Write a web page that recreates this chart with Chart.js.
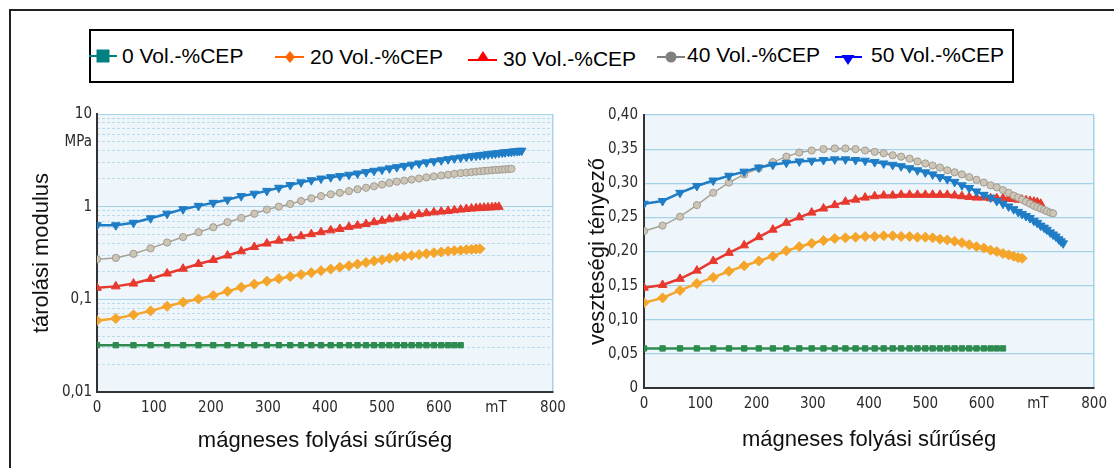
<!DOCTYPE html>
<html lang="hu">
<head>
<meta charset="utf-8">
<title>tárolási modulus / veszteségi tényező</title>
<script src="https://cdn.jsdelivr.net/npm/chart.js@4.4.1/dist/chart.umd.min.js"></script>
<style>
  html, body { margin: 0; padding: 0; background: #fff; }
  body { width: 1114px; height: 468px; position: relative; overflow: hidden; font-family: Arial, "Liberation Sans", sans-serif; }
  #frame { position: absolute; left: 9px; top: 9px; width: 1200px; height: 600px; border-left: 2px solid #222; border-top: 2px solid #222; }
  #legendBox { position: absolute; left: 89px; top: 29px; width: 925px; height: 54px; box-sizing: border-box; border: 2px solid #000; background: #fff; }
  .lg-mark { position: absolute; width: 30px; height: 20px; }
  .lg-text { position: absolute; font-size: 21px; line-height: 24px; color: #000; white-space: nowrap; }
  #leftWrap { position: absolute; left: 0; top: 100px; width: 575px; height: 360px; }
  #rightWrap { position: absolute; left: 556px; top: 100px; width: 558px; height: 360px; }
</style>
</head>
<body>
<div id="frame"></div>
<div id="legendBox"></div>

<!-- legend markers (Excel colours, not the scanned line colours) -->
<svg class="lg-mark" style="left:88px;top:46px" viewBox="0 0 30 20">
  <line x1="1" y1="10" x2="29" y2="10" stroke="#008080" stroke-width="2"/>
  <rect x="8.5" y="3.5" width="13" height="13" fill="#008080"/>
</svg>
<svg class="lg-mark" style="left:275px;top:47px" viewBox="0 0 30 20">
  <line x1="0" y1="10" x2="29" y2="10" stroke="#ff6600" stroke-width="2"/>
  <polygon points="15,4 20,10 15,16 10,10" fill="#ff6600"/>
</svg>
<svg class="lg-mark" style="left:468px;top:47px" viewBox="0 0 30 20">
  <line x1="0" y1="13" x2="29" y2="13" stroke="#ff0000" stroke-width="2"/>
  <polygon points="15,4 21.5,14 8.5,14" fill="#ff0000"/>
</svg>
<svg class="lg-mark" style="left:656px;top:47px" viewBox="0 0 30 20">
  <line x1="1" y1="10" x2="29" y2="10" stroke="#808080" stroke-width="2"/>
  <circle cx="15" cy="10" r="5.5" fill="#808080"/>
</svg>
<svg class="lg-mark" style="left:833px;top:47px" viewBox="0 0 30 20">
  <line x1="2" y1="10" x2="29" y2="10" stroke="#0000ff" stroke-width="2"/>
  <polygon points="8.5,8 21.5,8 15,18" fill="#0000ff"/>
</svg>

<div id="leftWrap"><canvas id="modulusChart"></canvas></div>
<div id="rightWrap"><canvas id="lossChart"></canvas></div>

<script>
// ================= DATA =================
const seriesNames = ["0 Vol.-%CEP", "20 Vol.-%CEP", "30 Vol.-%CEP", "40 Vol.-%CEP", "50 Vol.-%CEP"];

// magnetic flux density of the measuring points (mT); each series stops where its curve ends
const fieldMT = [0, 33, 64, 94, 123, 151, 178, 204, 229, 253, 276, 298, 319, 339, 358, 376, 393, 410, 426, 442,
  457, 472, 486, 500, 513, 526, 539, 552, 565, 578, 591, 604, 616, 627, 638, 648, 657, 665, 672, 679,
  686, 693, 699, 705, 711, 716, 722, 727, 732, 737, 741, 745];

// tárolási modulus (MPa)
const modulus0 = [0.032, 0.032, 0.032, 0.032, 0.032, 0.032, 0.032, 0.032, 0.032, 0.032, 0.032, 0.032, 0.032, 0.032, 0.032,
  0.032, 0.032, 0.032, 0.032, 0.032, 0.032, 0.032, 0.032, 0.032, 0.032, 0.032, 0.032, 0.032, 0.032, 0.032,
  0.032, 0.032, 0.032, 0.032, 0.032];
const modulus20 = [0.059, 0.062, 0.068, 0.075, 0.084, 0.093, 0.101, 0.110, 0.122, 0.135,
  0.146, 0.157, 0.167, 0.176, 0.185, 0.194, 0.204, 0.212, 0.222, 0.231,
  0.240, 0.250, 0.259, 0.268, 0.277, 0.285, 0.292, 0.298, 0.304, 0.311,
  0.318, 0.324, 0.330, 0.335, 0.339, 0.343, 0.346, 0.349, 0.351];
const modulus30 = [0.133, 0.138, 0.148, 0.166, 0.19, 0.214, 0.241, 0.266, 0.297, 0.33,
  0.367, 0.40, 0.43, 0.455, 0.48, 0.505, 0.53, 0.555, 0.575, 0.605,
  0.625, 0.65, 0.68, 0.705, 0.73, 0.75, 0.77, 0.80, 0.83, 0.85,
  0.87, 0.885, 0.90, 0.915, 0.93, 0.945, 0.955, 0.962, 0.97, 0.975,
  0.98, 0.985, 0.99, 0.995];
const modulus40 = [0.27, 0.28, 0.31, 0.355, 0.41, 0.47, 0.53, 0.60, 0.68, 0.755,
  0.84, 0.93, 1.00, 1.07, 1.15, 1.23, 1.30, 1.36, 1.41, 1.47,
  1.54, 1.60, 1.66, 1.73, 1.80, 1.86, 1.91, 1.96, 2.01, 2.07,
  2.12, 2.17, 2.21, 2.26, 2.30, 2.33, 2.36, 2.39, 2.41, 2.43,
  2.45, 2.47, 2.49, 2.50, 2.52, 2.53, 2.55, 2.56];
const modulus50 = [0.63, 0.63, 0.67, 0.75, 0.84, 0.94, 1.02, 1.10, 1.19, 1.30,
  1.38, 1.48, 1.60, 1.71, 1.83, 1.93, 2.01, 2.08, 2.14, 2.21,
  2.28, 2.36, 2.44, 2.51, 2.59, 2.67, 2.75, 2.84, 2.93, 3.01,
  3.09, 3.17, 3.25, 3.32, 3.39, 3.45, 3.50, 3.55, 3.59, 3.63,
  3.68, 3.72, 3.75, 3.79, 3.83, 3.86, 3.89, 3.92, 3.95, 3.98,
  4.00, 4.02];

// veszteségi tényező
const loss0 = [0.058, 0.058, 0.058, 0.058, 0.058, 0.058, 0.058, 0.058, 0.058, 0.058, 0.058, 0.058, 0.058, 0.058, 0.058,
  0.058, 0.058, 0.058, 0.058, 0.058, 0.058, 0.058, 0.058, 0.058, 0.058, 0.058, 0.058, 0.058, 0.058, 0.058,
  0.058, 0.058, 0.058, 0.058, 0.058];
const loss20 = [0.125, 0.132, 0.143, 0.153, 0.162, 0.171, 0.179, 0.186, 0.193, 0.201,
  0.207, 0.212, 0.216, 0.219, 0.220, 0.221, 0.222, 0.222, 0.223, 0.223,
  0.222, 0.222, 0.221, 0.221, 0.220, 0.218, 0.217, 0.215, 0.213, 0.210,
  0.207, 0.205, 0.202, 0.200, 0.197, 0.195, 0.193, 0.191, 0.190];
const loss30 = [0.147, 0.151, 0.160, 0.172, 0.186, 0.198, 0.209, 0.221, 0.232, 0.242,
  0.250, 0.257, 0.263, 0.268, 0.273, 0.276, 0.279, 0.281, 0.282, 0.282,
  0.283, 0.283, 0.283, 0.283, 0.283, 0.283, 0.283, 0.282, 0.281, 0.280,
  0.279, 0.279, 0.278, 0.278, 0.278, 0.277, 0.277, 0.276, 0.276, 0.275,
  0.274, 0.273, 0.272, 0.270];
const loss40 = [0.230, 0.238, 0.251, 0.268, 0.286, 0.301, 0.313, 0.322, 0.331, 0.339,
  0.345, 0.348, 0.350, 0.351, 0.351, 0.350, 0.348, 0.346, 0.344, 0.341,
  0.339, 0.336, 0.332, 0.329, 0.326, 0.323, 0.319, 0.316, 0.313, 0.309,
  0.305, 0.301, 0.297, 0.294, 0.290, 0.286, 0.282, 0.279, 0.276, 0.273,
  0.270, 0.267, 0.265, 0.263, 0.261, 0.259, 0.257, 0.256];
const loss50 = [0.270, 0.274, 0.286, 0.296, 0.304, 0.311, 0.317, 0.323, 0.327, 0.330,
  0.332, 0.333, 0.334, 0.335, 0.335, 0.334, 0.333, 0.331, 0.329, 0.327,
  0.325, 0.322, 0.319, 0.316, 0.313, 0.309, 0.306, 0.302, 0.297, 0.293,
  0.288, 0.283, 0.279, 0.274, 0.270, 0.266, 0.262, 0.258, 0.255, 0.252,
  0.249, 0.245, 0.242, 0.238, 0.235, 0.232, 0.228, 0.225, 0.222, 0.218,
  0.215, 0.212];

// tick labels
const fieldTicks = [0, 100, 200, 300, 400, 500, 600, 700, 800];
const fieldTickLabels = ["0", "100", "200", "300", "400", "500", "600", "mT", "800"];
const modulusTicks = [0.01, 0.1, 1, 5, 10];
const modulusTickLabels = ["0,01", "0,1", "1", "MPa", "10"];
const lossTicks = [0, 0.05, 0.10, 0.15, 0.20, 0.25, 0.30, 0.35, 0.40];
const lossTickLabels = ["0", "0,05", "0,10", "0,15", "0,20", "0,25", "0,30", "0,35", "0,40"];

// ================= LEGEND TEXT =================
const legendSpots = [[122, 43.5], [310, 44.5], [503, 46.5], [687, 42.5], [871, 43]];
seriesNames.forEach((name, i) => {
  const span = document.createElement("span");
  span.className = "lg-text";
  span.style.left = legendSpots[i][0] + "px";
  span.style.top = legendSpots[i][1] + "px";
  span.textContent = name;
  document.body.appendChild(span);
});

// ================= STYLES =================
const tickFont = { family: "'DejaVu Sans Condensed', 'Liberation Sans Narrow', sans-serif", size: 15 };
const titleFont = { family: "Arial, 'Liberation Sans', sans-serif", size: 22 };
const tickColor = "#2a2a2a";
const gridBlue = "#a6d2e8";
const gridDash = "#b8dcec";

const seriesStyle = [
  { color: "#2e8b50", point: "#2e8b50", edge: "#2e8b50", style: "rect", radius: 3.8, width: 2.5 },
  { color: "#f5a52a", point: "#f5a52a", edge: "#f5a52a", style: "rectRot", radius: 5, width: 2.5 },
  { color: "#e8392e", point: "#e8392e", edge: "#e8392e", style: "triangle", radius: 5, width: 2.5 },
  { color: "#a8a294", point: "#cdc5b5", edge: "#a39d92", style: "circle", radius: 3.6, width: 1.5 },
  { color: "#1f7dc6", point: "#1f7dc6", edge: "#1f7dc6", style: "triangle", radius: 5, width: 2.5, rotation: 180 }
];

function makeDatasets(seriesValues) {
  // first dataset is drawn last, so put the blue curve first
  const order = [4, 3, 2, 1, 0];
  return order.map(i => {
    const s = seriesStyle[i];
    return {
      label: seriesNames[i],
      data: seriesValues[i].map((v, k) => ({ x: fieldMT[k], y: v })),
      borderColor: s.color,
      borderWidth: s.width,
      backgroundColor: s.point,
      pointBackgroundColor: s.point,
      pointBorderColor: s.edge,
      pointBorderWidth: 1,
      pointStyle: s.style,
      pointRadius: s.radius,
      pointRotation: s.rotation || 0,
      tension: 0,
      fill: false
    };
  });
}

// ================= PLOT BACKGROUND =================
const plotBackground = {
  id: "plotBackground",
  beforeDraw(chart) {
    const { ctx, chartArea: a } = chart;
    ctx.save();
    ctx.fillStyle = "#eef6fb";
    ctx.fillRect(a.left, a.top, a.right - a.left, a.bottom - a.top);
    ctx.restore();
  }
};

function xAxis(height, titlePadBottom) {
  return {
    type: "linear",
    min: 0,
    max: 800,
    afterBuildTicks: scale => { scale.ticks = fieldTicks.map(v => ({ value: v })); },
    afterFit: scale => { scale.height = height; },
    ticks: {
      autoSkip: false,
      maxRotation: 0,
      padding: 7,
      color: tickColor,
      font: tickFont,
      callback: (v, i) => fieldTickLabels[i]
    },
    grid: {
      drawTicks: false,
      lineWidth: 1.5,
      color: ctx => (ctx.tick && ctx.tick.value === 800 ? gridBlue : "rgba(0,0,0,0)")
    },
    border: { display: true, color: "#333", width: 2 },
    title: {
      display: true,
      text: "mágneses folyási sűrűség",
      color: "#111",
      font: titleFont,
      padding: { top: 0, bottom: titlePadBottom }
    }
  };
}

// ================= LEFT: TÁROLÁSI MODULUS =================
const decades = [0.01, 0.1, 1, 10];
const minorLines = [];
[0.01, 0.1, 1].forEach(d => {
  for (let m = 2; m <= 9; m++) minorLines.push(Number((m * d).toPrecision(3)));
});

new Chart(document.getElementById("modulusChart"), {
  type: "line",
  data: { datasets: makeDatasets([modulus0, modulus20, modulus30, modulus40, modulus50]) },
  options: {
    responsive: true,
    maintainAspectRatio: false,
    animation: false,
    layout: { padding: { left: 0, top: 14, right: 22, bottom: 0 } },
    plugins: { legend: { display: false }, tooltip: { enabled: false } },
    scales: {
      x: xAxis(68, 6),
      y: {
        type: "logarithmic",
        position: "left",
        min: 0.01,
        max: 10,
        afterBuildTicks: scale => { scale.ticks = modulusTicks.map(v => ({ value: v })); },
        afterFit: scale => { scale.width = 97; },
        ticks: {
          autoSkip: false,
          padding: 5,
          color: tickColor,
          font: tickFont,
          callback: (v, i) => modulusTickLabels[i]
        },
        grid: {
          drawTicks: false,
          lineWidth: 1,
          color: ctx => (ctx.tick && decades.includes(ctx.tick.value) ? gridBlue : "rgba(0,0,0,0)")
        },
        border: { display: true, color: "#333", width: 2 },
        title: {
          display: true,
          text: "tárolási modulus",
          color: "#111",
          font: titleFont,
          padding: { top: 29, bottom: 0 }
        }
      },
      yMinor: {
        type: "logarithmic",
        position: "left",
        min: 0.01,
        max: 10,
        afterBuildTicks: scale => { scale.ticks = minorLines.map(v => ({ value: v })); },
        afterFit: scale => { scale.width = 0; },
        ticks: { display: false, autoSkip: false },
        grid: { drawTicks: false, lineWidth: 1, color: gridDash },
        border: { display: false, dash: [3, 2] }
      }
    }
  },
  plugins: [plotBackground]
});

// ================= RIGHT: VESZTESÉGI TÉNYEZŐ =================
new Chart(document.getElementById("lossChart"), {
  type: "line",
  data: { datasets: makeDatasets([loss0, loss20, loss30, loss40, loss50]) },
  options: {
    responsive: true,
    maintainAspectRatio: false,
    animation: false,
    layout: { padding: { left: 0, top: 13, right: 15, bottom: 0 } },
    plugins: { legend: { display: false }, tooltip: { enabled: false } },
    scales: {
      x: xAxis(72, 7),
      y: {
        type: "linear",
        position: "left",
        min: 0,
        max: 0.4,
        afterBuildTicks: scale => { scale.ticks = lossTicks.map(v => ({ value: v })); },
        afterFit: scale => { scale.width = 88; },
        ticks: {
          autoSkip: false,
          padding: 6,
          color: tickColor,
          font: tickFont,
          callback: (v, i) => lossTickLabels[i]
        },
        grid: { drawTicks: false, lineWidth: 1.2, color: gridBlue },
        border: { display: true, color: "#333", width: 2 },
        title: {
          display: true,
          text: "veszteségi tényező",
          color: "#111",
          font: titleFont,
          padding: { top: 29, bottom: 0 }
        }
      }
    }
  },
  plugins: [plotBackground]
});
</script>
</body>
</html>
